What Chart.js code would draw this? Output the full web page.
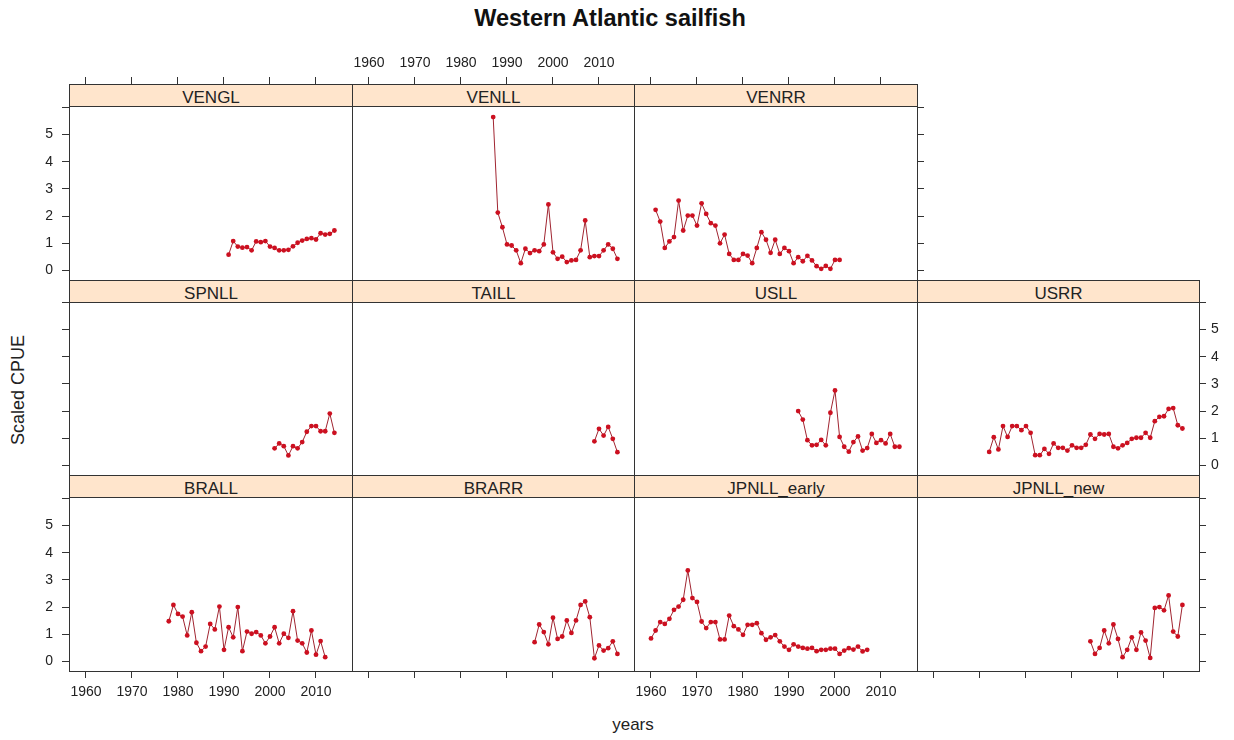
<!DOCTYPE html>
<html lang="en">
<head>
<meta charset="UTF-8" />
<title>Western Atlantic sailfish</title>
<script src="https://cdn.jsdelivr.net/npm/chart.js"></script>
<style>
  body { margin: 0; background: #fff; font-family: 'Liberation Sans', Arial, sans-serif; }
  #page { position: relative; width: 1234px; height: 740px; overflow: hidden; }
  canvas { position: absolute; }
  .strip { position: absolute; z-index: 2; box-sizing: border-box; background: #ffe5cc; border: 1px solid #333;
           text-align: center; font-size: 17px; line-height: 25px; color: #222; }
  #title { position: absolute; left: 410px; width: 400px; top: 5px; text-align: center; font-weight: bold; font-size: 23.5px; color: #111; }
  #xlab { position: absolute; left: 583px; width: 100px; top: 715px; text-align: center; font-size: 17px; color: #222; }
  #ylab { position: absolute; left: 18px; top: 390px; font-size: 18px; color: #222; white-space: nowrap;
          transform: translate(-50%, -50%) rotate(-90deg); }
</style>
</head>
<body>
<div id="page">
  <div id="title">Western Atlantic sailfish</div>
  <div id="ylab">Scaled CPUE</div>
  <div id="xlab">years</div>
</div>

<script>
  // panel names, grid cell (row, col) and first year of each series
  const panelNames = ["VENGL", "VENLL", "VENRR", "SPNLL", "TAILL", "USLL", "USRR", "BRALL", "BRARR", "JPNLL_early", "JPNLL_new"];
  const panelCells = [[0, 0], [0, 1], [0, 2], [1, 0], [1, 1], [1, 2], [1, 3], [2, 0], [2, 1], [2, 2], [2, 3]];
  const firstYears = [1991, 1987, 1961, 2001, 2009, 1992, 1972, 1978, 1996, 1960, 1994];

  // scaled CPUE, one value per year
  const vengl = [0.58, 1.08, 0.88, 0.84, 0.86, 0.74, 1.07, 1.04, 1.08, 0.88, 0.83, 0.74, 0.74, 0.76, 0.89, 1.02, 1.10, 1.16, 1.19, 1.14, 1.37, 1.32, 1.35, 1.47];
  const venll = [5.64, 2.13, 1.59, 0.96, 0.92, 0.74, 0.27, 0.80, 0.64, 0.74, 0.71, 0.96, 2.43, 0.67, 0.43, 0.51, 0.31, 0.37, 0.39, 0.74, 1.84, 0.49, 0.53, 0.53, 0.74, 0.96, 0.80, 0.43];
  const venrr = [2.23, 1.80, 0.83, 1.07, 1.23, 2.57, 1.47, 2.02, 2.02, 1.65, 2.47, 2.08, 1.74, 1.65, 1.00, 1.32, 0.61, 0.39, 0.39, 0.61, 0.55, 0.27, 0.83, 1.41, 1.13, 0.65, 1.13, 0.61, 0.83, 0.71, 0.27, 0.49, 0.34, 0.54, 0.37, 0.16, 0.06, 0.17, 0.06, 0.39, 0.39];
  const spnll = [0.63, 0.81, 0.71, 0.37, 0.71, 0.63, 0.86, 1.24, 1.45, 1.45, 1.26, 1.26, 1.91, 1.20];
  const taill = [0.89, 1.35, 1.10, 1.42, 0.98, 0.49];
  const usll = [2.00, 1.69, 0.93, 0.74, 0.76, 0.94, 0.74, 1.94, 2.76, 1.05, 0.69, 0.51, 0.86, 1.07, 0.55, 0.64, 1.16, 0.83, 0.93, 0.81, 1.16, 0.69, 0.69];
  const usrr = [0.50, 1.04, 0.59, 1.45, 1.05, 1.45, 1.45, 1.30, 1.45, 1.20, 0.38, 0.38, 0.61, 0.43, 0.81, 0.65, 0.65, 0.55, 0.74, 0.65, 0.65, 0.76, 1.14, 0.98, 1.16, 1.14, 1.16, 0.69, 0.63, 0.74, 0.83, 0.98, 1.02, 1.02, 1.20, 1.02, 1.63, 1.79, 1.81, 2.08, 2.11, 1.48, 1.36];
  const brall = [1.48, 2.08, 1.75, 1.65, 0.96, 1.81, 0.69, 0.38, 0.55, 1.38, 1.18, 2.02, 0.43, 1.26, 0.89, 2.00, 0.38, 1.10, 1.02, 1.08, 0.96, 0.67, 0.92, 1.26, 0.67, 1.02, 0.87, 1.85, 0.77, 0.67, 0.33, 1.14, 0.25, 0.75, 0.16];
  const brarr = [0.71, 1.36, 1.08, 0.63, 1.61, 0.83, 0.92, 1.51, 1.05, 1.51, 2.08, 2.21, 1.63, 0.12, 0.59, 0.40, 0.49, 0.74, 0.28];
  const jpnllEarly = [0.85, 1.14, 1.45, 1.38, 1.57, 1.90, 2.02, 2.27, 3.35, 2.33, 2.19, 1.47, 1.23, 1.45, 1.45, 0.81, 0.81, 1.69, 1.30, 1.18, 0.98, 1.35, 1.35, 1.41, 1.04, 0.80, 0.89, 0.97, 0.74, 0.55, 0.43, 0.63, 0.55, 0.50, 0.47, 0.50, 0.38, 0.43, 0.43, 0.47, 0.47, 0.28, 0.40, 0.49, 0.44, 0.55, 0.37, 0.43];
  const jpnllNew = [0.74, 0.28, 0.50, 1.14, 0.67, 1.36, 0.83, 0.16, 0.43, 0.89, 0.43, 1.07, 0.77, 0.13, 1.97, 2.00, 1.88, 2.43, 1.10, 0.92, 2.08];

  const series = [vengl, venll, venrr, spnll, taill, usll, usrr, brall, brarr, jpnllEarly, jpnllNew];

  const yearTicks = [1960, 1970, 1980, 1990, 2000, 2010];
  const cpueTicks = [0, 1, 2, 3, 4, 5, 6];
  const cpueLabels = ["0", "1", "2", "3", "4", "5", ""];

  // layout of the panel grid (pixels)
  const M = 56;             // room on every side of a panel, taken by its four axes
  const gridLeft = 69, colW = 282.5;
  const gridTop = 84, rowH = 195.7;
  const stripH = 22;
  const pxPerYear = 4.6, pxPerUnit = 27.2;

  const page = document.getElementById("page");
  const tickFont = { family: "'Liberation Sans', Arial, sans-serif", size: 14 };

  // box round every panel (strip included)
  const framePlugin = {
    id: "frame",
    afterDraw(chart) {
      const { ctx, chartArea: a } = chart;
      ctx.save();
      ctx.strokeStyle = "#333";
      ctx.lineWidth = 1;
      ctx.strokeRect(Math.round(a.left) + 0.5, Math.round(a.top) + 0.5, Math.round(a.width), Math.round(a.height));
      ctx.restore();
    }
  };

  // every axis keeps a fixed size, shown or not, so all plot areas line up
  function axis(pos, show, labels, range, ticks, fmt, pad) {
    const horizontal = pos === "top" || pos === "bottom";
    return {
      type: "linear",
      position: pos,
      display: show,
      min: range[0],
      max: range[1],
      afterBuildTicks: s => { s.ticks = ticks.map(v => ({ value: v })); },
      afterFit: s => { if (horizontal) s.height = M; else s.width = M; },
      border: { display: false },
      grid: { drawOnChartArea: false, drawTicks: true, tickLength: 7, color: "#333", lineWidth: 1 },
      ticks: { display: labels, autoSkip: false, maxRotation: 0, padding: pad, font: tickFont, color: "#222", callback: fmt }
    };
  }

  const yearFmt = v => String(v);
  const cpueFmt = v => cpueLabels[cpueTicks.indexOf(v)] ?? "";

  panelNames.forEach((name, i) => {
    const [row, col] = panelCells[i];
    const L = Math.round(gridLeft + col * colW), R = Math.round(gridLeft + (col + 1) * colW);
    const T = Math.round(gridTop + row * rowH), B = Math.round(gridTop + (row + 1) * rowH);
    const W = R - L, H = B - T;

    // years: 1960 sits 17px in from the left edge; CPUE 0 sits 9.5px above the bottom
    const xMin = 1960 - 17 / pxPerYear, xRange = [xMin, xMin + W / pxPerYear];
    const yMin = -9.5 / pxPerUnit, yRange = [yMin, yMin + H / pxPerUnit];

    const showLeft = col === 0, leftLab = row !== 1;
    const showRight = (row === 0 && col === 2) || col === 3, rightLab = row === 1 && col === 3;
    const showTop = row === 0, topLab = col === 1;
    const showBottom = row === 2, bottomLab = col === 0 || col === 2;

    const canvas = document.createElement("canvas");
    canvas.width = W + 2 * M;
    canvas.height = H + 2 * M;
    canvas.style.left = (L - M) + "px";
    canvas.style.top = (T - M) + "px";
    page.appendChild(canvas);

    const strip = document.createElement("div");
    strip.className = "strip";
    strip.textContent = name;
    strip.style.left = L + "px";
    strip.style.top = T + "px";
    strip.style.width = (W + 1) + "px";
    strip.style.height = (stripH + 1) + "px";
    page.appendChild(strip);

    const first = firstYears[i];
    const points = series[i].map((v, k) => ({ x: first + k, y: v }));

    new Chart(canvas, {
      type: "line",
      data: {
        datasets: [{
          data: points,
          borderColor: "#a02430",
          borderWidth: 1,
          pointRadius: 2.4,
          pointBackgroundColor: "#cc1020",
          pointBorderWidth: 0,
          tension: 0
        }]
      },
      options: {
        responsive: false,
        animation: false,
        events: [],
        layout: { padding: 0 },
        plugins: { legend: { display: false }, tooltip: { enabled: false } },
        scales: {
          x: axis("bottom", showBottom, bottomLab, xRange, yearTicks, yearFmt, 6),
          x2: axis("top", showTop, topLab, xRange, yearTicks, yearFmt, 5),
          y: axis("left", showLeft, leftLab, yRange, cpueTicks, cpueFmt, 9),
          y2: axis("right", showRight, rightLab, yRange, cpueTicks, cpueFmt, 5)
        }
      },
      plugins: [framePlugin]
    });
  });
</script>
</body>
</html>
